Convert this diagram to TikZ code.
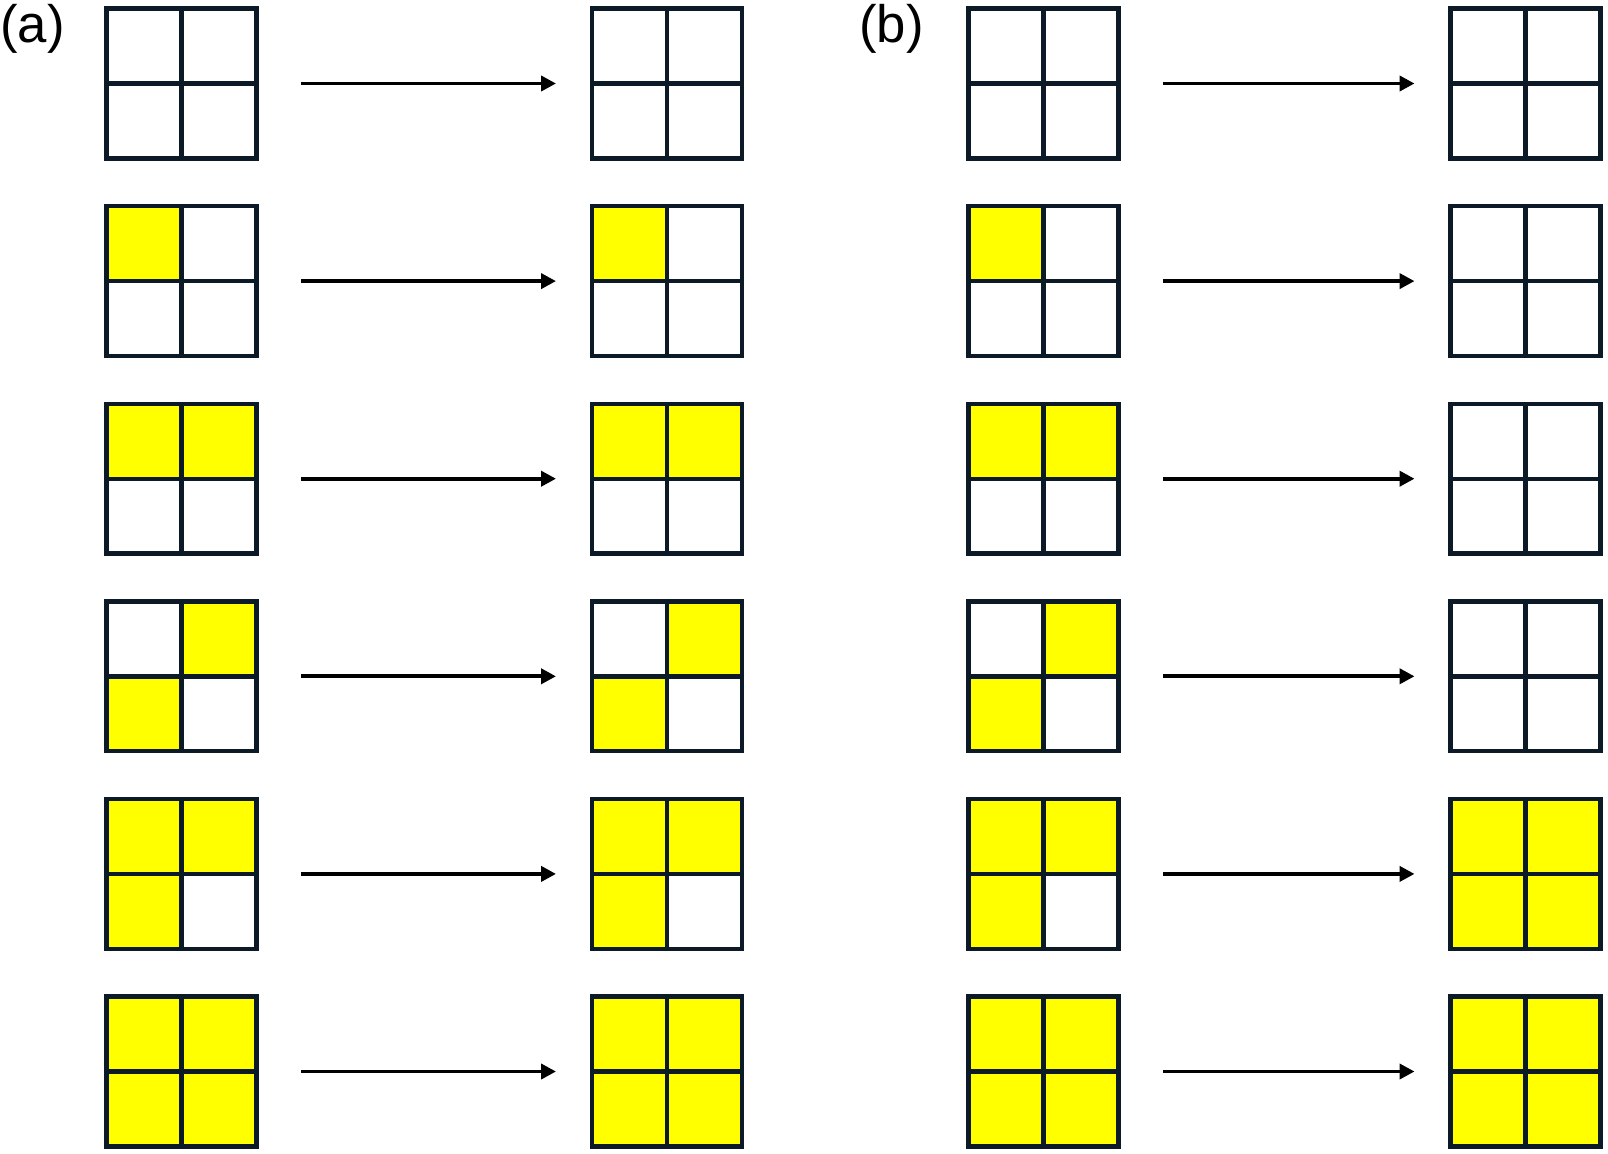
\documentclass[tikz,border=0pt]{standalone}
\usepackage{fontspec}
\setmainfont{Liberation Sans}
\usetikzlibrary{arrows.meta, positioning}
\definecolor{gridline}{HTML}{0B1A26}
\definecolor{lit}{HTML}{FFFF00}
\tikzstyle{cell} = [rectangle, draw=gridline, line width=2.5pt, minimum size=1.5cm, inner sep=0pt, outer sep=0pt]
\tikzstyle{quad} = [rectangle, minimum size=3cm, inner sep=0pt, outer sep=0pt]
\tikzstyle{arrow} = [line width=2.2pt, -{Triangle[length=0.3cm, width=0.3cm]}, shorten <=0.9cm, shorten >=0.72cm]
\tikzstyle{panel} = [font=\fontsize{30}{36}\selectfont, anchor=base west, inner sep=0pt]

% one 2x2 grid: name, x, y, then fills of the four cells
\newcommand{\quadgrid}[7]{%
  \node (#1) [quad] at (#2,#3) {};
  \node (#1-tl) [cell, fill=#4, anchor=south east] at (#1.center) {};
  \node (#1-tr) [cell, fill=#5, anchor=south west] at (#1.center) {};
  \node (#1-bl) [cell, fill=#6, anchor=north east] at (#1.center) {};
  \node (#1-br) [cell, fill=#7, anchor=north west] at (#1.center) {};
}

\begin{document}
\begin{tikzpicture}[x=0.02cm, y=-0.02cm]
    \useasboundingbox (0,0) rectangle (1608,1153);

    \node (lbla) [panel] at (0,42) {(a)};
    \node (lblb) [panel] at (859,42) {(b)};

    \foreach \i/\tl/\tr/\bl/\br/\btl/\btr/\bbl/\bbr in {
        1/white/white/white/white/white/white/white/white,
        2/lit/white/white/white/white/white/white/white,
        3/lit/lit/white/white/white/white/white/white,
        4/white/lit/lit/white/white/white/white/white,
        5/lit/lit/lit/white/lit/lit/lit/lit,
        6/lit/lit/lit/lit/lit/lit/lit/lit} {
        \pgfmathsetmacro{\ry}{83.5+197.6*(\i-1)}
        % panel (a): state kept
        \quadgrid{a\i l}{181.5}{\ry}{\tl}{\tr}{\bl}{\br}
        \quadgrid{a\i r}{667}{\ry}{\tl}{\tr}{\bl}{\br}
        % panel (b)
        \quadgrid{b\i l}{1043.5}{\ry}{\tl}{\tr}{\bl}{\br}
        \quadgrid{b\i r}{1525.5}{\ry}{\btl}{\btr}{\bbl}{\bbr}

        \draw [arrow] (a\i l) -- (a\i r);
        \draw [arrow] (b\i l) -- (b\i r);
    }
\end{tikzpicture}
\end{document}
